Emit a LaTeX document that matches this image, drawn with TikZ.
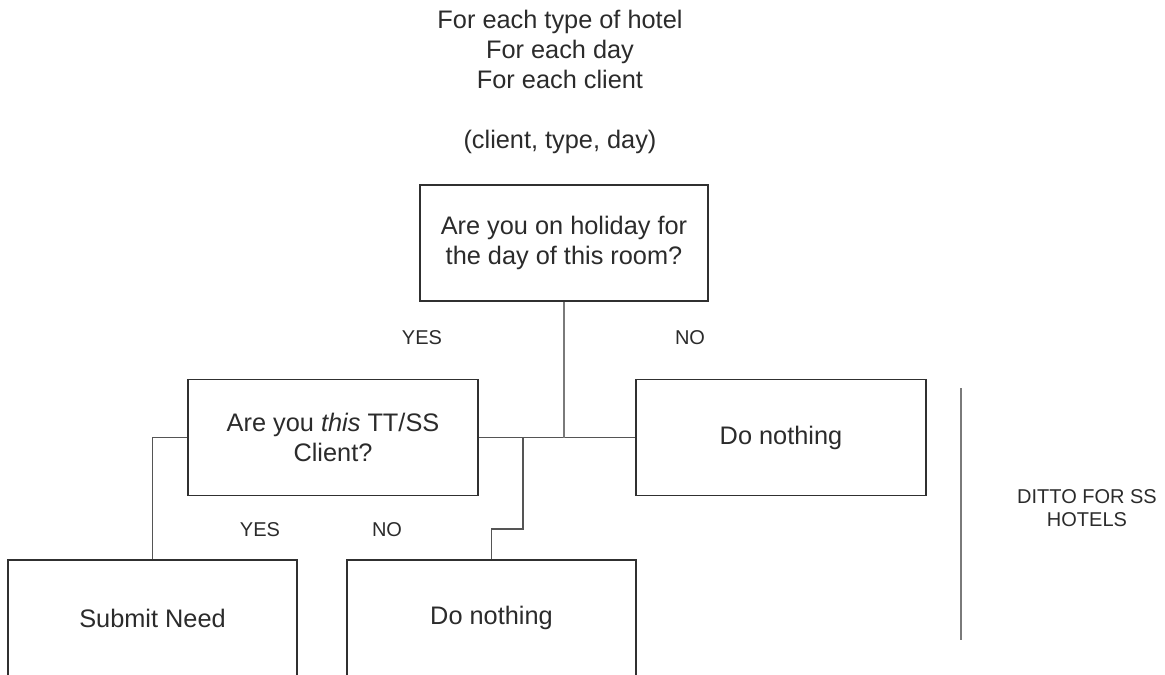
\documentclass[tikz,border=0pt]{standalone}
\usepackage{fontspec}
\setmainfont{Liberation Sans}
\usetikzlibrary{positioning,calc}
\definecolor{txtgrey}{HTML}{2B2B2B}
\definecolor{edgegrey}{HTML}{303030}
\definecolor{wiregrey}{HTML}{555555}
\definecolor{rulegrey}{HTML}{7A7A7A}

\begin{document}
\begin{tikzpicture}[
  x=0.75pt, y=-0.75pt,
  txt/.style={font=\fontsize{19}{22.5}\selectfont, text=txtgrey, align=center, inner sep=0pt},
  lbl/.style={font=\fontsize{15}{17}\selectfont, text=txtgrey, align=center, inner sep=0pt},
  box/.style={draw=edgegrey, line width=1.3pt, fill=white, inner sep=0pt,
              minimum width=217pt, minimum height=87pt,
              font=\fontsize{19}{22}\selectfont, text=txtgrey, align=center},
  wire/.style={draw=wiregrey, line width=1.3pt},
]

%% ---- Page frame ----
\useasboundingbox (0,0) rectangle (1165,675);
\clip (0,0) rectangle (1165,675);

%% ---- Loop header ----
\node[txt] (loops) at (560,49)
  {For each type of hotel\\For each day\\For each client};
\node[txt] (tuple) at (560,142) {(client, type, day)};

%% ---- Decision boxes ----
\node[box, minimum width=216pt] at (564,243) (holiday)
  {Are you on holiday for\\the day of this room?};
\node[box] at (333,437.5) (ask)   {Are you \textit{this} TT/SS\\Client?};
\node[box] at (781,437.5) (none1) {Do nothing};

%% ---- Outcome boxes (cut by the lower edge) ----
\node[box] at (152.5,618) (submit) {Submit Need};
\node[box] at (491.5,618) (none2)  {Do nothing};

%% ---- Branch labels ----
\node[lbl] at (422,338) (yes1) {YES};
\node[lbl] at (690,338) (no1)  {NO};
\node[lbl] at (260,530) (yes2) {YES};
\node[lbl] at (387,530) (no2)  {NO};

%% ---- Connectors ----
\draw[wire] (ask.east) -- (none1.west);
\draw[wire, draw=rulegrey] (holiday.south) -- (holiday.south |- none1.west);
\coordinate (kink) at (523,529);
\draw[wire] (ask.east) -| (kink) -| (none2.north);
\draw[wire] (ask.west) -| (submit.north);

%% ---- Side note ----
\coordinate (dittotop) at (961,388);
\coordinate (dittobot) at (961,640);
\draw[line width=1.5pt, rulegrey] (dittotop) -- (dittobot);
\node[lbl] at (1087,508) (ditto) {DITTO FOR SS\\HOTELS};

\end{tikzpicture}
\end{document}
